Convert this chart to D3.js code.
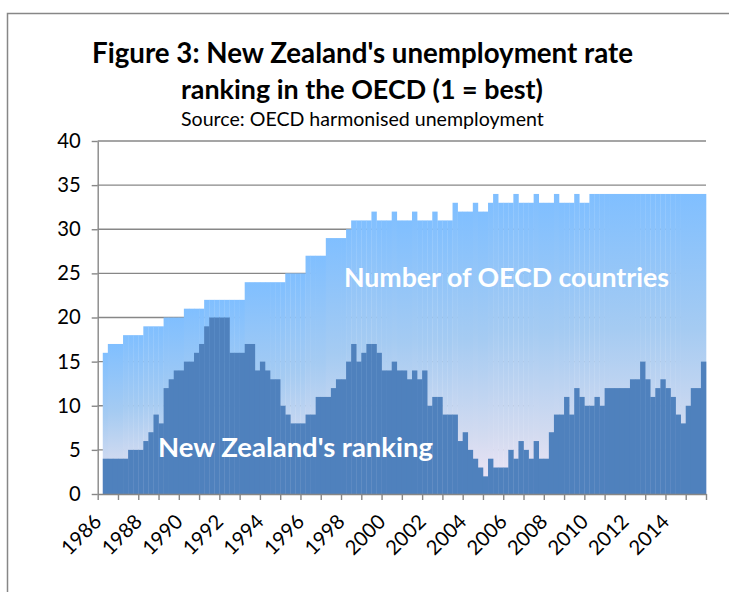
<!DOCTYPE html>
<html>
<head>
<meta charset="utf-8">
<script src="https://cdn.jsdelivr.net/npm/d3@7"></script>
<style>
  body { margin: 0; background: #fff; }
  svg { display: block; }
  text { font-family: Lato, "Open Sans", sans-serif; }
</style>
</head>
<body>
<div id="chart"></div>
<script>
// quarterly data, 1986Q1 .. 2015Q4 (one row per year)
var years = [1986, 1987, 1988, 1989, 1990, 1991, 1992, 1993, 1994, 1995,
             1996, 1997, 1998, 1999, 2000, 2001, 2002, 2003, 2004, 2005,
             2006, 2007, 2008, 2009, 2010, 2011, 2012, 2013, 2014, 2015];
var quarterNames = ['Q1', 'Q2', 'Q3', 'Q4'];

var oecdCountries = [
  null, 16, 17, 17,   // 1986
  17, 18, 18, 18,     // 1987
  18, 19, 19, 19,     // 1988
  19, 20, 20, 20,     // 1989
  20, 21, 21, 21,     // 1990
  21, 22, 22, 22,     // 1991
  22, 22, 22, 22,     // 1992
  22, 24, 24, 24,     // 1993
  24, 24, 24, 24,     // 1994
  24, 25, 25, 25,     // 1995
  25, 27, 27, 27,     // 1996
  27, 29, 29, 29,     // 1997
  29, 30, 31, 31,     // 1998
  31, 31, 32, 31,     // 1999
  31, 31, 32, 31,     // 2000
  31, 31, 32, 31,     // 2001
  31, 31, 32, 31,     // 2002
  31, 31, 33, 32,     // 2003
  32, 32, 33, 32,     // 2004
  32, 33, 34, 33,     // 2005
  33, 33, 34, 33,     // 2006
  33, 33, 34, 33,     // 2007
  33, 33, 34, 33,     // 2008
  33, 33, 34, 33,     // 2009
  33, 34, 34, 34,     // 2010
  34, 34, 34, 34,     // 2011
  34, 34, 34, 34,     // 2012
  34, 34, 34, 34,     // 2013
  34, 34, 34, 34,     // 2014
  34, 34, 34, 34      // 2015
];

var nzRanking = [
  null, 4, 4, 4,      // 1986
  4, 4, 5, 5,         // 1987
  5, 6, 7, 9,         // 1988
  8, 12, 13, 14,      // 1989
  14, 15, 15, 16,     // 1990
  17, 19, 20, 20,     // 1991
  20, 20, 16, 16,     // 1992
  16, 17, 17, 14,     // 1993
  15, 14, 13, 13,     // 1994
  10, 9, 8, 8,        // 1995
  8, 9, 9, 11,        // 1996
  11, 11, 12, 13,     // 1997
  13, 15, 17, 15,     // 1998
  16, 17, 17, 16,     // 1999
  14, 14, 15, 14,     // 2000
  14, 13, 14, 13,     // 2001
  14, 10, 11, 11,     // 2002
  9, 9, 9, 6,         // 2003
  7, 5, 4, 3,         // 2004
  2, 4, 3, 3,         // 2005
  3, 5, 4, 6,         // 2006
  5, 4, 6, 4,         // 2007
  4, 7, 9, 9,         // 2008
  11, 9, 12, 11,      // 2009
  10, 10, 11, 10,     // 2010
  12, 12, 12, 12,     // 2011
  12, 13, 13, 15,     // 2012
  13, 11, 12, 13,     // 2013
  12, 11, 9, 8,       // 2014
  10, 12, 12, 15      // 2015
];

var yTicks = [0, 5, 10, 15, 20, 25, 30, 35, 40];
var xTickLabels = ['1986', '1988', '1990', '1992', '1994', '1996', '1998', '2000',
                   '2002', '2004', '2006', '2008', '2010', '2012', '2014'];

var width = 729, height = 592;
var plot = {left: 97.7, right: 706, top: 141, bottom: 494};
var grey = '#878787';

var svg = d3.select('#chart').append('svg')
    .attr('width', width)
    .attr('height', height);

// outer chart border (runs off the right and bottom of the picture)
svg.append('rect')
    .attr('x', 7.5).attr('y', 13.5)
    .attr('width', 760).attr('height', 620)
    .attr('fill', '#fff')
    .attr('stroke', grey)
    .attr('stroke-width', 1.5);

var quarters = [];
years.forEach(function(yr) {
  quarterNames.forEach(function(q) { quarters.push(yr + q); });
});

var x = d3.scaleBand()
    .domain(quarters)
    .range([plot.left, plot.right])
    .padding(0);

var xYear = d3.scaleLinear()
    .domain([years[0], years[years.length - 1] + 1])
    .range([plot.left, plot.right]);

var y = d3.scaleLinear()
    .domain([0, 40])
    .range([plot.bottom, plot.top]);

// gradient used by every OECD column (per column bounding box)
var grad = svg.append('defs').append('linearGradient')
    .attr('id', 'oecdGrad')
    .attr('x1', 0).attr('y1', 0).attr('x2', 0).attr('y2', 1);
[[0, '#80bfff'], [0.45, '#a5cbf2'], [0.8, '#d3dbf0'], [1, '#f3e6f6']].forEach(function(s) {
  grad.append('stop').attr('offset', s[0]).attr('stop-color', s[1]);
});

// gridlines
svg.append('g')
    .selectAll('line')
    .data(yTicks.filter(function(d) { return d > 0; }))
    .enter().append('line')
    .attr('x1', plot.left).attr('x2', plot.right)
    .attr('y1', function(d) { return y(d); })
    .attr('y2', function(d) { return y(d); })
    .attr('stroke', grey)
    .attr('stroke-width', 1.4);

function series(values) {
  return quarters.map(function(q, i) { return {q: q, v: values[i]}; })
      .filter(function(d) { return d.v != null; });
}

// number of OECD countries
svg.append('g')
    .selectAll('rect')
    .data(series(oecdCountries))
    .enter().append('rect')
    .attr('x', function(d) { return x(d.q); })
    .attr('width', x.bandwidth() + 0.3)
    .attr('y', function(d) { return y(d.v); })
    .attr('height', function(d) { return y(0) - y(d.v); })
    .attr('fill', 'url(#oecdGrad)');

// New Zealand's ranking
svg.append('g')
    .selectAll('rect')
    .data(series(nzRanking))
    .enter().append('rect')
    .attr('x', function(d) { return x(d.q); })
    .attr('width', x.bandwidth() + 0.3)
    .attr('y', function(d) { return y(d.v); })
    .attr('height', function(d) { return y(0) - y(d.v); })
    .attr('fill', '#4f81bd');

// fit a text element to a target width, returns the font size used
function fitText(sel, target) {
  var w = sel.node().getComputedTextLength();
  var fs = parseFloat(sel.style('font-size')) * target / w;
  sel.style('font-size', fs.toFixed(2) + 'px');
  return fs;
}

// axis font size: a 4-digit year should be ~47px long
var probe = svg.append('text').style('font-size', '20px').text('1986');
var axisFont = fitText(probe, 47);
probe.remove();

// y axis
var yAxis = svg.append('g')
    .attr('transform', 'translate(' + plot.left + ',0)')
    .call(d3.axisLeft(y).tickValues(yTicks).tickSize(6).tickSizeOuter(0).tickPadding(11));
yAxis.selectAll('path, line').attr('stroke', grey).attr('stroke-width', 1.4);
yAxis.selectAll('text')
    .attr('fill', '#000')
    .style('font-size', axisFont + 'px')
    .style('font-family', 'Lato, sans-serif');

// x axis: tick marks at year boundaries
var xAxis = svg.append('g')
    .attr('transform', 'translate(0,' + plot.bottom + ')')
    .call(d3.axisBottom(xYear)
      .tickValues(years.concat([years[years.length - 1] + 1]))
      .tickSize(6).tickSizeOuter(0).tickFormat(''));
xAxis.selectAll('path, line').attr('stroke', grey).attr('stroke-width', 1.4);

// rotated year labels, every other year
svg.append('g')
    .selectAll('text')
    .data(xTickLabels)
    .enter().append('text')
    .attr('transform', function(d) {
      var cx = xYear(+d + 0.5);
      return 'translate(' + (cx - 5) + ',' + (plot.bottom + 29) + ') rotate(-45)';
    })
    .attr('text-anchor', 'end')
    .style('font-size', axisFont + 'px')
    .attr('fill', '#000')
    .text(function(d) { return d; });

function label(txt, x0, baseline, target, size, weight, fill) {
  var t = svg.append('text')
      .attr('x', x0).attr('y', baseline)
      .style('font-size', size + 'px')
      .style('font-weight', weight)
      .attr('fill', fill)
      .text(txt);
  fitText(t, target);
  return t;
}

// titles
label("Figure 3: New Zealand's unemployment rate", 92, 63, 541, 25, 'bold', '#000');
label('ranking in the OECD (1 = best)', 181, 99, 362, 25, 'bold', '#000');
label('Source: OECD harmonised unemployment', 181, 126, 363, 17, 'normal', '#000');

// in-chart labels
label('Number of OECD countries', 344, 287, 325, 25, 'bold', '#fff');
label("New Zealand's ranking", 158, 457, 275, 25, 'bold', '#fff');
</script>
</body>
</html>
